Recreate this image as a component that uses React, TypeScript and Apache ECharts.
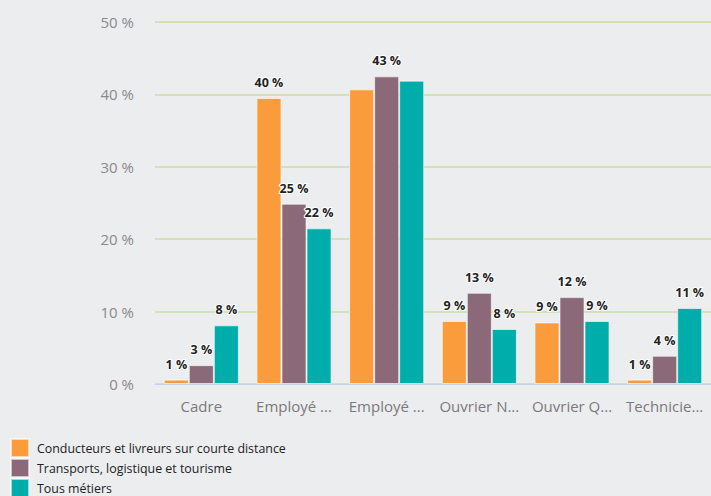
import React, { useEffect, useRef } from "react";
import * as echarts from "echarts";

const categories = [
  "Cadre",
  "Employé Non Qualifié",
  "Employé Qualifié",
  "Ouvrier Non Qualifié",
  "Ouvrier Qualifié",
  "Technicien / Agent de maîtrise",
];
const seriesNames = [
  "Conducteurs et livreurs sur courte distance",
  "Transports, logistique et tourisme",
  "Tous métiers",
];
const conducteurs = [0.6, 39.5, 40.7, 8.7, 8.5, 0.6];
const transports = [2.6, 24.9, 42.5, 12.6, 12.0, 3.9];
const tousMetiers = [8.1, 21.5, 41.9, 7.6, 8.7, 10.5];
// indexes of bars whose value label is not displayed (per series)
const hiddenByIndex: number[][] = [[2], [], [2]];
const yTicks = [0, 10, 20, 30, 40, 50];

const colors = ["#FA9C3C", "#8B6978", "#00ADAA"];
const FONT = "'Open Sans', sans-serif";

export default function App() {
  const ref = useRef<HTMLDivElement>(null);
  useEffect(() => {
    if (!ref.current) return;
    const chart = echarts.init(ref.current, undefined, { renderer: "svg" });
    const all = [conducteurs, transports, tousMetiers];
    chart.setOption({
      animation: false,
      backgroundColor: "#ECEDEF",
      textStyle: { fontFamily: FONT },
      grid: { left: 155, top: 22, width: 558, height: 362, containLabel: false },
      legend: {
        orient: "vertical",
        left: 10,
        top: 438,
        height: 80,
        padding: 0,
        itemWidth: 18,
        itemHeight: 18,
        itemGap: 0,
        icon: "rect",
        selectedMode: false,
        textStyle: { fontSize: 12.4, lineHeight: 18, color: "#222", fontFamily: FONT, padding: [0, 0, 0, 3] },
        data: seriesNames,
      },
      xAxis: {
        type: "category",
        data: categories,
        axisLine: { lineStyle: { color: "#C6D2E6", width: 1 } },
        axisTick: { show: false },
        axisLabel: {
          color: "#7A7A7A",
          fontSize: 15,
          margin: 14,
          interval: 0,
          width: 85,
          overflow: "truncate",
          ellipsis: "...",
          fontFamily: FONT,
        },
      },
      yAxis: {
        type: "value",
        min: yTicks[0],
        max: yTicks[yTicks.length - 1],
        interval: 10,
        axisLine: { show: false },
        axisTick: { show: false },
        splitLine: { lineStyle: { color: "#CBDDA8", width: 1.5 } },
        axisLabel: {
          color: "#8A8A8A",
          fontSize: 15,
          margin: 21,
          formatter: "{value} %",
          fontFamily: FONT,
        },
      },
      series: all.map((vals, si) => ({
        name: seriesNames[si],
        type: "bar",
        barGap: "0%",
        barCategoryGap: "19%",
        itemStyle: { color: colors[si], borderColor: "rgba(255,255,255,0.6)", borderWidth: 1 },
        label: {
          show: true,
          position: "top",
          distance: 9,
          fontSize: 12.5,
          fontWeight: "bold",
          color: "#222",
          textBorderColor: "#fff",
          textBorderWidth: 2,
          fontFamily: FONT,
          formatter: (p: any) => Math.round(p.value) + " %",
        },
        data: vals.map((v, i) =>
          hiddenByIndex[si].includes(i) ? { value: v, label: { show: false } } : v
        ),
      })),
    });
    return () => chart.dispose();
  }, []);
  return (
    <div
      ref={ref}
      style={{ position: "absolute", left: 0, top: 0, width: 711, height: 496 }}
    />
  );
}
